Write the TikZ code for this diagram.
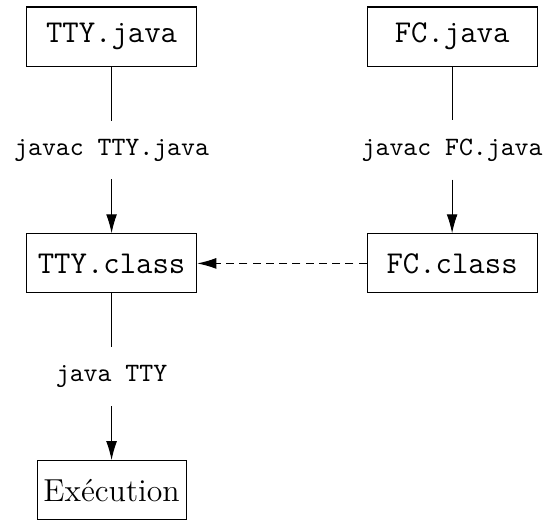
\documentclass[tikz,border=0pt]{standalone}
\usetikzlibrary{arrows.meta,positioning}
\begin{document}
\begin{tikzpicture}[node distance={42.8pt}, >={Latex[length=7.2pt,width=4.1pt]},
    file/.style = {draw, font=\large\ttfamily, minimum width=64.2pt, minimum height=22.3pt, inner sep=0pt},
    cmd/.style = {font=\ttfamily, inner xsep=2pt, inner ysep=6.7pt}]

  \useasboundingbox (-42.1pt,13.8pt) rectangle (162.8pt,-183.6pt);

  \node[file] (SRC_TTY) {TTY.java};
  \node[cmd] (CMD_TTY) [below of=SRC_TTY] {javac TTY.java};
  \node[file] (CLS_TTY) [below of=CMD_TTY] {TTY.class};
  \node[cmd] (RUN_TTY) [below of=CLS_TTY] {java TTY};
  \node[file, font=\large, minimum width=56.2pt] (EXE) [below of=RUN_TTY] {Exécution};

  \node[file] (SRC_FC) [right of=SRC_TTY, node distance=128.5pt] {FC.java};
  \node[cmd] (CMD_FC) [below of=SRC_FC] {javac FC.java};
  \node[file] (CLS_FC) [below of=CMD_FC] {FC.class};

  \draw (SRC_TTY) -- (CMD_TTY);
  \draw[->] (CMD_TTY) -- (CLS_TTY);
  \draw (CLS_TTY) -- (RUN_TTY);
  \draw[->] (RUN_TTY) -- (EXE);

  \draw (SRC_FC) -- (CMD_FC);
  \draw[->] (CMD_FC) -- (CLS_FC);

  \draw[->, dash pattern=on 3pt off 2pt] (CLS_FC) -- (CLS_TTY);

\end{tikzpicture}
\end{document}
